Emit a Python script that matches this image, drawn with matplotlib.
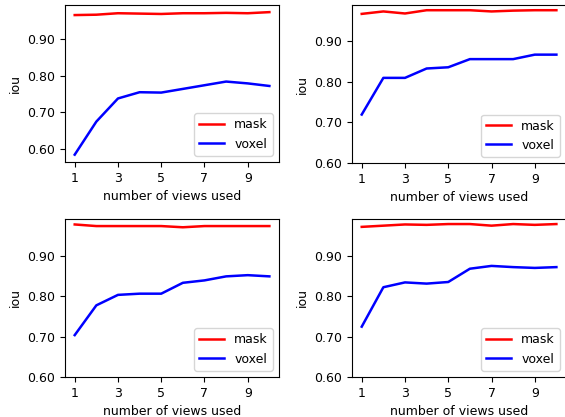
import matplotlib
matplotlib.use("Agg")
import matplotlib.pyplot as plt
from matplotlib.ticker import FormatStrFormatter

views = [1, 2, 3, 4, 5, 6, 7, 8, 9, 10]

mask_tl = [0.965, 0.966, 0.970, 0.969, 0.968, 0.970, 0.970, 0.971, 0.970, 0.973]
voxel_tl = [0.585, 0.675, 0.738, 0.755, 0.754, 0.764, 0.774, 0.784, 0.779, 0.772]

mask_tr = [0.966, 0.972, 0.967, 0.975, 0.975, 0.975, 0.972, 0.974, 0.975, 0.975]
voxel_tr = [0.719, 0.809, 0.809, 0.832, 0.835, 0.855, 0.855, 0.855, 0.866, 0.866]

mask_bl = [0.979, 0.975, 0.975, 0.975, 0.975, 0.972, 0.975, 0.975, 0.975, 0.975]
voxel_bl = [0.704, 0.778, 0.804, 0.807, 0.807, 0.834, 0.840, 0.850, 0.853, 0.850]

mask_br = [0.973, 0.976, 0.979, 0.978, 0.980, 0.980, 0.976, 0.980, 0.978, 0.980]
voxel_br = [0.725, 0.823, 0.835, 0.832, 0.836, 0.869, 0.876, 0.873, 0.871, 0.873]

xticks = [1, 3, 5, 7, 9]

plt.rcParams["font.size"] = 9

fig = plt.figure(figsize=(5.65, 4.17), dpi=100)

# [left, bottom, width, height] in figure fractions, with the y-axis floor (None = autoscale)
panels = [
    ([0.115, 0.612, 0.379, 0.376], mask_tl, voxel_tl, None),
    ([0.623, 0.609, 0.379, 0.379], mask_tr, voxel_tr, 0.6),
    ([0.115, 0.096, 0.379, 0.379], mask_bl, voxel_bl, 0.6),
    ([0.623, 0.096, 0.379, 0.379], mask_br, voxel_br, 0.6),
]

for rect, mask, voxel, ymin in panels:
    ax = fig.add_axes(rect)
    ax.plot(views, mask, color="red", lw=1.8, label="mask")
    ax.plot(views, voxel, color="blue", lw=1.8, label="voxel")
    if ymin is not None:
        ax.set_ylim(bottom=ymin)
    ax.set_xticks(xticks)
    ax.yaxis.set_major_formatter(FormatStrFormatter("%.2f"))
    ax.set_xlabel("number of views used")
    ax.set_ylabel("iou")
    ax.legend(loc="lower right")

fig.savefig("out.png", dpi=100)
